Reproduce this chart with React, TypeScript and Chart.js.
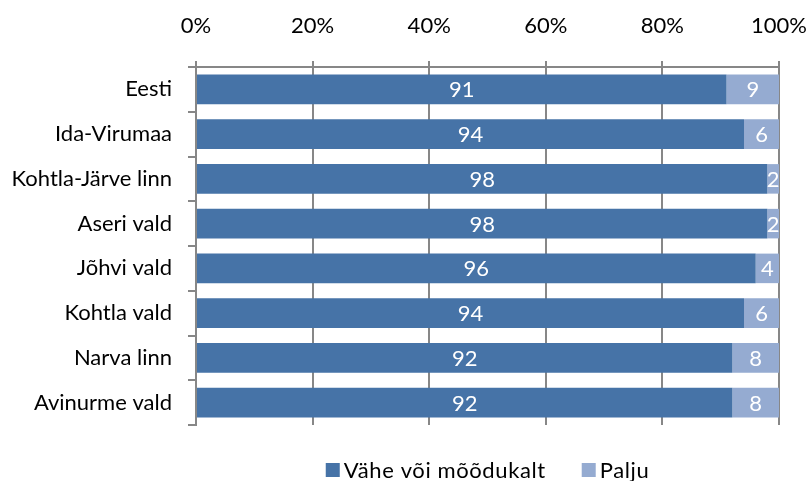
import React, { useEffect, useRef } from "react";
import { Chart, registerables } from "chart.js";

Chart.register(...registerables);

const categories = [
  "Eesti",
  "Ida-Virumaa",
  "Kohtla-Järve linn",
  "Aseri vald",
  "Jõhvi vald",
  "Kohtla vald",
  "Narva linn",
  "Avinurme vald",
];
const seriesNames = ["Vähe või mõõdukalt", "Palju"];
const vaheVoiMoodukalt = [91, 94, 98, 98, 96, 94, 92, 92];
const palju = [9, 6, 2, 2, 4, 6, 8, 8];
const xTicks = [0, 20, 40, 60, 80, 100];
const colors = ["#4673A7", "#95ABD1"];

const FONT = "Lato, 'Open Sans', sans-serif";
const FS = 22;
const GRID = "#878787";

const barLabels = {
  id: "barLabels",
  afterDatasetsDraw(chart: any) {
    const ctx = chart.ctx;
    ctx.save();
    ctx.fillStyle = "#ffffff";
    ctx.font = `${FS}px ${FONT}`;
    ctx.textAlign = "center";
    ctx.textBaseline = "middle";
    chart.data.datasets.forEach((ds: any, di: number) => {
      const meta = chart.getDatasetMeta(di);
      meta.data.forEach((bar: any, i: number) => {
        const v = ds.data[i];
        const cx = (bar.x + bar.base) / 2;
        ctx.fillText(String(v), cx, bar.y + 1);
      });
    });
    ctx.restore();
  },
};

const customLegend = {
  id: "customLegend",
  afterDraw(chart: any) {
    const ctx = chart.ctx;
    ctx.save();
    ctx.font = `${FS}px ${FONT}`;
    (ctx as any).letterSpacing = "0.6px";
    ctx.textBaseline = "middle";
    ctx.textAlign = "left";
    const box = 14;
    const gapBoxText = 4;
    const gapItems = 36;
    const items = chart.data.datasets.map((ds: any) => ({
      label: ds.label,
      color: ds.backgroundColor,
      w: ctx.measureText(ds.label).width,
    }));
    const total =
      items.reduce((s: number, it: any) => s + box + gapBoxText + it.w, 0) +
      gapItems * (items.length - 1);
    const ca = chart.chartArea;
    let x = (ca.left + ca.right) / 2 - total / 2;
    const y = 470;
    items.forEach((it: any) => {
      ctx.fillStyle = it.color;
      ctx.fillRect(x, y - box / 2, box, box);
      x += box + gapBoxText;
      ctx.fillStyle = "#000";
      ctx.fillText(it.label, x, y + 1);
      x += it.w + gapItems;
    });
    ctx.restore();
  },
};

export default function App() {
  const ref = useRef<HTMLCanvasElement>(null);
  useEffect(() => {
    document.body.style.margin = "0";
    const chart = new Chart(ref.current!, {
      type: "bar",
      data: {
        labels: categories,
        datasets: [
          {
            label: seriesNames[0],
            data: vaheVoiMoodukalt,
            backgroundColor: colors[0],
            barPercentage: 0.66,
            categoryPercentage: 1,
          },
          {
            label: seriesNames[1],
            data: palju,
            backgroundColor: colors[1],
            barPercentage: 0.66,
            categoryPercentage: 1,
          },
        ],
      },
      plugins: [barLabels, customLegend],
      options: {
        animation: false,
        responsive: false,
        indexAxis: "y",
        layout: { padding: { top: 0, right: 28, bottom: 56, left: 0 } },
        scales: {
          x: {
            position: "top",
            stacked: true,
            min: 0,
            max: 100,
            afterBuildTicks(scale: any) {
              scale.ticks = xTicks.map((v) => ({ value: v }));
            },
            afterFit(scale: any) {
              scale.height = 67;
              scale.paddingLeft = 0;
              scale.paddingRight = 0;
            },
            ticks: {
              callback: (v: any) => v + "%",
              color: "#000",
              font: { family: FONT, size: FS },
              padding: 22,
              maxRotation: 0,
            },
            grid: {
              color: GRID,
              lineWidth: 2,
              tickLength: 6,
            },
            border: { color: GRID, width: 2 },
          },
          y: {
            stacked: true,
            afterFit(scale: any) {
              scale.width = 196;
              scale.paddingTop = 0;
              scale.paddingBottom = 0;
            },
            ticks: {
              color: "#000",
              font: { family: FONT, size: FS },
              padding: 16,
            },
            grid: {
              offset: true,
              drawOnChartArea: false,
              color: GRID,
              lineWidth: 2,
              tickLength: 8,
            },
            border: { color: GRID, width: 2 },
          },
        },
        plugins: {
          tooltip: { enabled: false },
          legend: { display: false },
        },
      },
    });
    return () => chart.destroy();
  }, []);
  return (
    <div style={{ width: 807, height: 481 }}>
      <canvas ref={ref} width={807} height={481} />
    </div>
  );
}
